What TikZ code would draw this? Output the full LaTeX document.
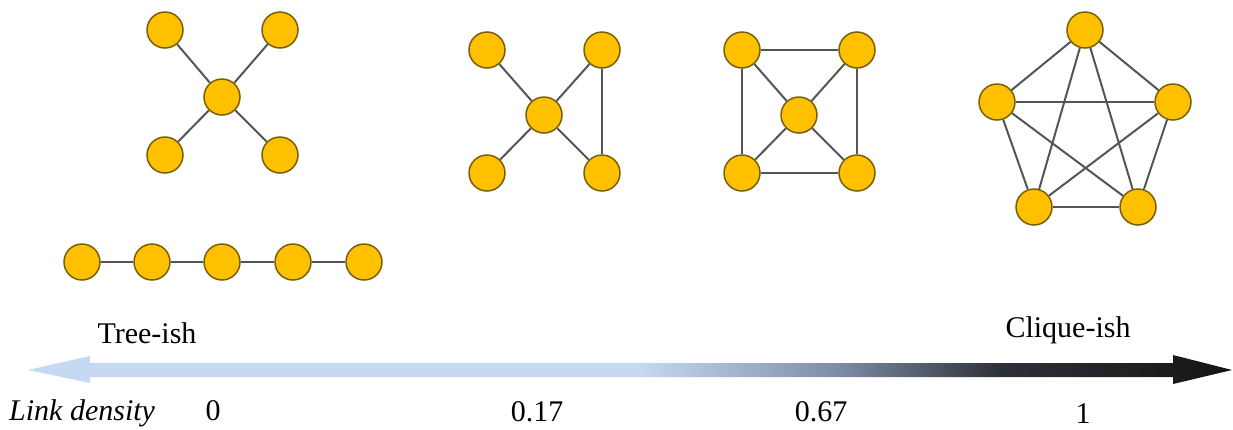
\documentclass[tikz,border=0pt]{standalone}
\usepackage{fontspec}
\setmainfont{Liberation Serif}
\definecolor{nodefill}{RGB}{255,192,0}
\definecolor{nodeline}{RGB}{120,95,10}
\definecolor{edgegray}{RGB}{85,85,85}
\definecolor{barlight}{RGB}{197,217,243}
\definecolor{barmid}{RGB}{125,140,165}
\definecolor{bardark}{RGB}{45,48,55}
\definecolor{barblack}{RGB}{20,20,20}
% light blue on the tree side, fading to black on the clique side
\pgfdeclarehorizontalshading{densityshade}{100bp}{%
  color(0bp)=(barlight); color(25bp)=(barlight); color(50.4bp)=(barlight);
  color(58.7bp)=(barmid); color(65.4bp)=(bardark); color(75bp)=(barblack);
  color(100bp)=(barblack)}
\tikzset{
  vertex/.style={circle, fill=nodefill, draw=nodeline, line width=1.5pt,
    minimum size=36pt, inner sep=0pt},
  link/.style={draw=edgegray, line width=2pt},
  label/.style={font=\fontsize{30}{34}\selectfont, anchor=base, inner sep=0pt},
}
\begin{document}
\begin{tikzpicture}[x=1pt, y=-1pt]
\useasboundingbox (0,0) rectangle (1233,429);

% star
\node[vertex] (a0) at (222,97) {};
\node[vertex] (a1) at (165,30) {};
\node[vertex] (a2) at (280,30) {};
\node[vertex] (a3) at (165,155) {};
\node[vertex] (a4) at (280,155) {};
\foreach \v in {a1,a2,a3,a4} \draw[link] (a0) -- (\v);

% path
\foreach \i/\x in {1/82,2/152,3/222,4/293,5/364}
  \node[vertex] (c\i) at (\x,262) {};
\draw[link] (c1) -- (c2);
\draw[link] (c2) -- (c3);
\draw[link] (c3) -- (c4);
\draw[link] (c4) -- (c5);

% star with one extra link
\node[vertex] (b0) at (544,115) {};
\node[vertex] (b1) at (487,50) {};
\node[vertex] (b2) at (602,50) {};
\node[vertex] (b3) at (487,173) {};
\node[vertex] (b4) at (602,173) {};
\foreach \v in {b1,b2,b3,b4} \draw[link] (b0) -- (\v);
\draw[link] (b2) -- (b4);

% wheel
\node[vertex] (d0) at (799,115) {};
\node[vertex] (d1) at (742,50) {};
\node[vertex] (d2) at (857,50) {};
\node[vertex] (d3) at (742,173) {};
\node[vertex] (d4) at (857,173) {};
\foreach \v in {d1,d2,d3,d4} \draw[link] (d0) -- (\v);
\draw[link] (d1) -- (d2);
\draw[link] (d2) -- (d4);
\draw[link] (d4) -- (d3);
\draw[link] (d3) -- (d1);

% complete graph
\node[vertex] (e1) at (1085,30) {};
\node[vertex] (e2) at (997,102) {};
\node[vertex] (e3) at (1173,102) {};
\node[vertex] (e4) at (1034,207) {};
\node[vertex] (e5) at (1138,207) {};
\foreach \u/\v in {e1/e2,e1/e3,e1/e4,e1/e5,e2/e3,e2/e4,e2/e5,e3/e4,e3/e5,e4/e5}
  \draw[link] (\u) -- (\v);

% density axis
\shade[shading=densityshade]
  (28,370) -- (90,356) -- (90,363) -- (1173,363) -- (1173,355) -- (1232,370)
  -- (1173,384) -- (1173,377) -- (90,377) -- (90,383) -- cycle;

\node[label] (tree) at (147,343) {Tree-ish};
\node[label] (clique) at (1068,337) {Clique-ish};
\node[label, anchor=base west] (dens) at (9,420) {\itshape Link density};
\node[label] (v0) at (213,420) {0};
\node[label] (v1) at (537,421) {0.17};
\node[label] (v2) at (821,421) {0.67};
\node[label] (v3) at (1083,423) {1};
\end{tikzpicture}
\end{document}
